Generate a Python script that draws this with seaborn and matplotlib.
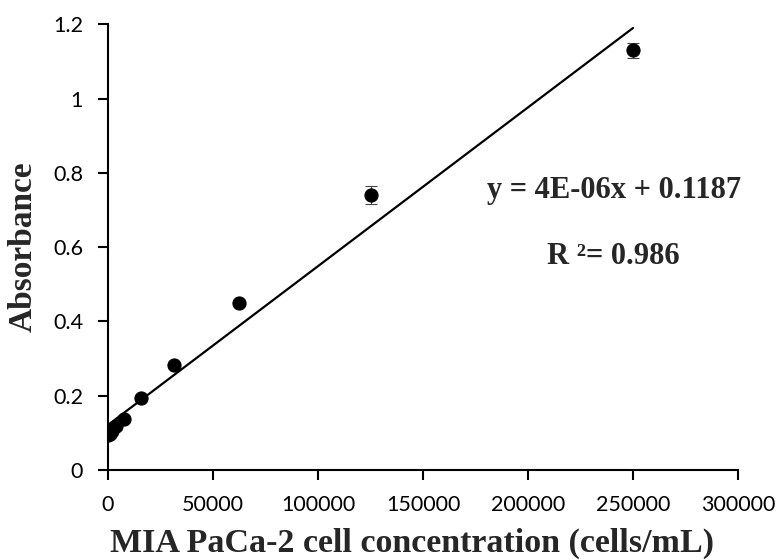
import numpy as np
import pandas as pd
import seaborn as sns
import matplotlib.pyplot as plt

# 数据：细胞浓度与吸光度
conc = [0, 977, 1953, 3906, 7813, 15625, 31250, 62500, 125000, 250000]
absorb = [0.095, 0.098, 0.105, 0.118, 0.136, 0.193, 0.282, 0.450, 0.740, 1.130]
err = [0.004, 0.004, 0.004, 0.004, 0.005, 0.005, 0.006, 0.006, 0.025, 0.02]

data = pd.DataFrame({'conc': conc, 'abs': absorb, 'err': err})

sns.set_style('ticks')
plt.rcParams['font.family'] = ['Lato', 'DejaVu Sans']

fig = plt.figure(figsize=(7.81, 5.60), dpi=100)
ax = fig.add_axes([0.1383, 0.1607, 0.8067, 0.796])

# 线性趋势线
k, b = np.polyfit(data['conc'], data['abs'], 1)
fit = pd.DataFrame({'x': [0, 250000]})
fit['y'] = k * fit['x'] + b
sns.lineplot(data=fit, x='x', y='y', color='black', linewidth=1.6, ax=ax)

# 误差棒和散点
ax.errorbar(data['conc'], data['abs'], yerr=data['err'], fmt='none',
            ecolor='#444444', elinewidth=0.8, capsize=4.5, capthick=0.8, zorder=3)
sns.scatterplot(data=data, x='conc', y='abs', color='black', s=90,
                edgecolor='black', zorder=4, ax=ax)

ax.set_xlim(0, 300000)
ax.set_ylim(0, 1.2)
ax.set_xticks(range(0, 300001, 50000))
ax.set_yticks([0, 0.2, 0.4, 0.6, 0.8, 1, 1.2])
ax.set_yticklabels(['0', '0.2', '0.4', '0.6', '0.8', '1', '1.2'])
ax.tick_params(labelsize=15.5, width=1.5, length=7, colors='black', pad=11)

for s in ['top', 'right']:
    ax.spines[s].set_visible(False)
for s in ['left', 'bottom']:
    ax.spines[s].set_linewidth(1.5)
    ax.spines[s].set_color('black')

ax.set_xlabel('MIA PaCa-2 cell concentration (cells/mL)', fontsize=24.5,
              fontweight='bold', family='Liberation Serif', labelpad=8)
ax.xaxis.set_label_coords(0.482, -0.13)
ax.set_ylabel('Absorbance', fontsize=24, fontweight='bold',
              family='Liberation Serif', labelpad=10)

ax.text(0.803, 0.628, 'y = 4E-06x + 0.1187', transform=ax.transAxes,
        ha='center', va='center', fontsize=22, fontweight='bold',
        family='Liberation Serif')
ax.text(0.802, 0.478, 'R ²= 0.986', transform=ax.transAxes,
        ha='center', va='center', fontsize=22, fontweight='bold',
        family='Liberation Serif')

plt.savefig('out.png', dpi=100)
